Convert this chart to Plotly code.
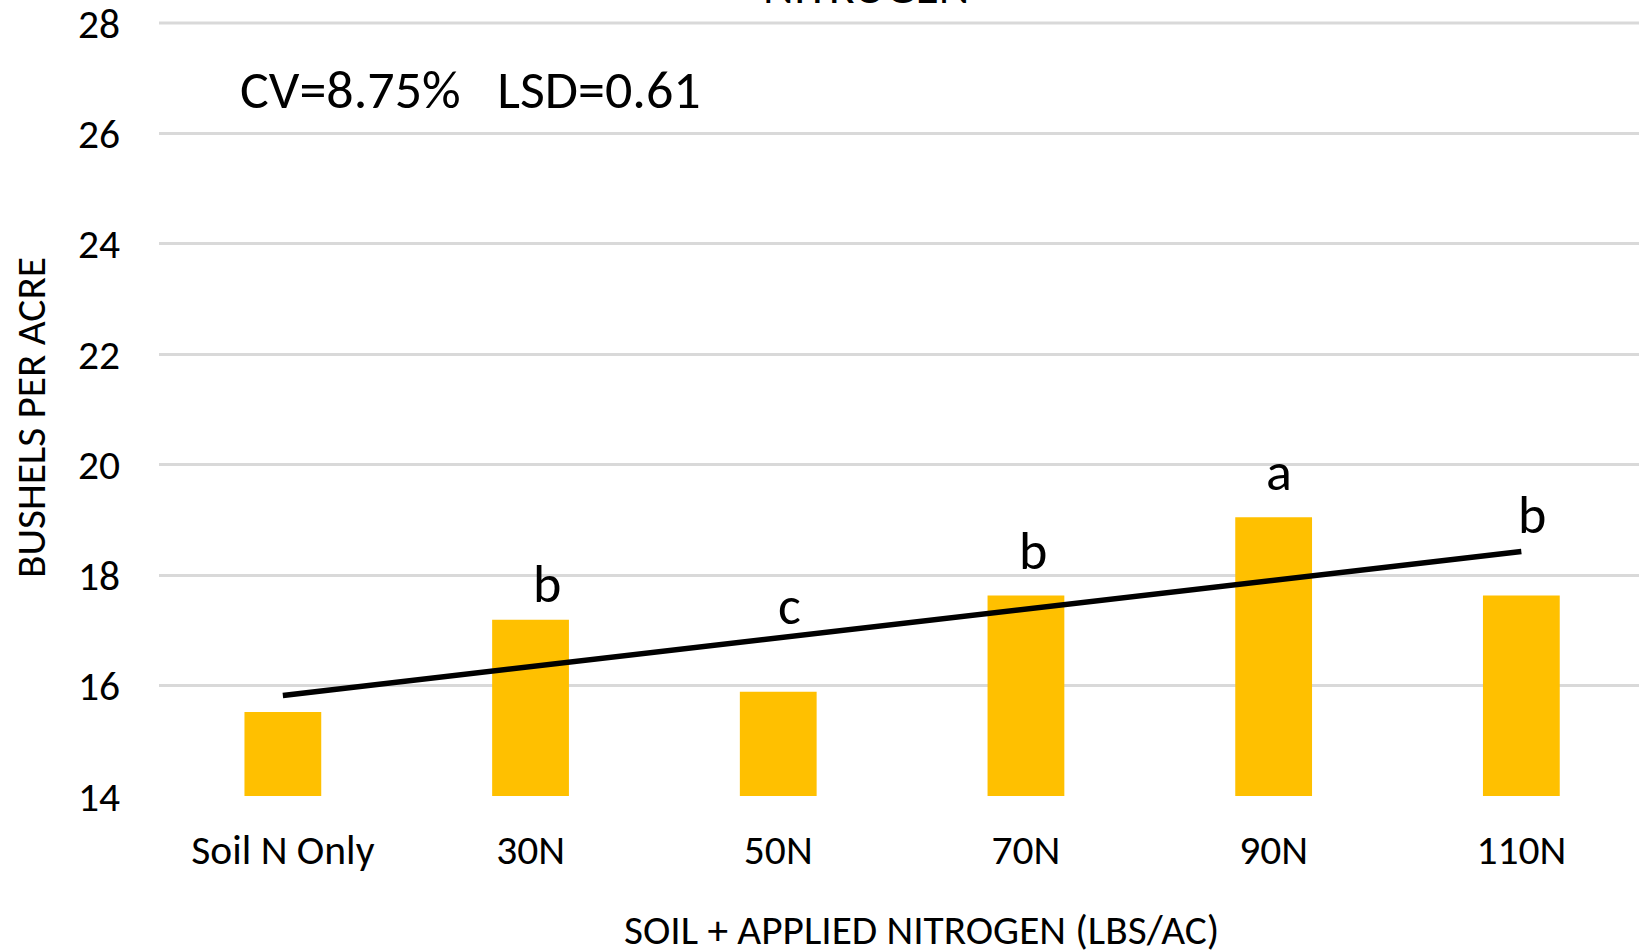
import plotly.graph_objects as go

# ---- data ----
categories = ["Soil N Only", "30N", "50N", "70N", "90N", "110N"]
yield_bu = [15.52, 17.19, 15.89, 17.63, 19.05, 17.63]
trend_x = ["Soil N Only", "110N"]
trend_y = [15.82, 18.43]
sig_letters = ["", "b", "c", "b", "a", "b"]
y_ticks = [14, 16, 18, 20, 22, 24, 26, 28]
stats_text = "CV=8.75%   LSD=0.61"
title_text = "NITROGEN"
x_title = "SOIL + APPLIED NITROGEN (LBS/AC)"
y_title = "BUSHELS PER ACRE"

# ---- positions / styles ----
letter_y = [None, 17.84, 17.45, 18.43, 19.86, 19.09]
letter_xshift = [0, 16, 11, 7, 5, 11]
FONT = "Carlito, Lato, sans-serif"
BAR_COLOR = "#FFC000"
GRID = "#D9D9D9"

fig = go.Figure()
fig.add_trace(go.Bar(x=categories, y=yield_bu, marker=dict(color=BAR_COLOR, line=dict(width=0)),
                     width=0.31, showlegend=False, hoverinfo="y"))
fig.add_trace(go.Scatter(x=trend_x, y=trend_y, mode="lines",
                         line=dict(color="black", width=5.5), showlegend=False, hoverinfo="skip"))

annotations = []
for cat, lab, ly, xs in zip(categories, sig_letters, letter_y, letter_xshift):
    if lab:
        annotations.append(dict(x=cat, y=ly, xref="x", yref="y", text=lab, showarrow=False,
                                xshift=xs, xanchor="center", yanchor="middle",
                                font=dict(family=FONT, size=54, color="black")))
annotations.append(dict(x=0.0534, y=26.79, xref="paper", yref="y", text=stats_text, showarrow=False,
                        xanchor="left", yanchor="middle",
                        font=dict(family=FONT, size=54, color="black")))
annotations.append(dict(x=0.478, y=1.0, xref="paper", yref="paper", text=title_text, showarrow=False,
                        xanchor="center", yanchor="bottom", yshift=5,
                        font=dict(family=FONT, size=47.5, color="black")))
annotations.append(dict(x=-0.0865, y=0.4903, xref="paper", yref="paper", text=y_title, showarrow=False,
                        textangle=-90, xanchor="center", yanchor="middle",
                        font=dict(family=FONT, size=41.3, color="black")))
annotations.append(dict(x=0.5155, y=-0.1734, xref="paper", yref="paper", text=x_title, showarrow=False,
                        xanchor="center", yanchor="middle",
                        font=dict(family=FONT, size=41.3, color="black")))

fig.update_layout(
    width=1639, height=951,
    margin=dict(l=159, r=0, t=23, b=155, pad=0),
    paper_bgcolor="white", plot_bgcolor="white",
    annotations=annotations,
    font=dict(family=FONT, color="black"),
    shapes=[dict(type="line", xref="paper", yref="paper", x0=0, x1=1, y0=1, y1=1,
                 line=dict(color=GRID, width=3), layer="below")],
    xaxis=dict(type="category", range=[-0.5, 5.475], showgrid=False, zeroline=False,
               showline=False, ticks="", automargin=False, ticklabeloverflow="allow",
               tickfont=dict(family=FONT, size=41.5, color="black"), ticklabelstandoff=25),
    yaxis=dict(range=[14, 28], tickvals=y_ticks, showgrid=True, gridcolor=GRID, gridwidth=3,
               zeroline=False, showline=False, ticks="", automargin=False, ticklabeloverflow="allow",
               tickfont=dict(family=FONT, size=41.5, color="black"), ticklabelstandoff=38),
)

fig.write_html("out.html", config={"displayModeBar": False},
               post_script="document.body.style.margin='0';document.body.style.overflow='hidden';")
